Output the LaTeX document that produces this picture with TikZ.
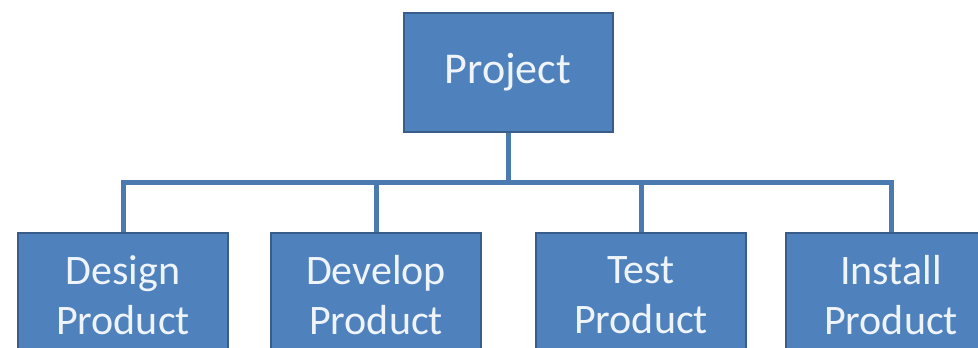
\documentclass[tikz,border=0pt]{standalone}
\usepackage{fontspec}
\setmainfont{Carlito}
\definecolor{boxfill}{HTML}{4F81BD}
\definecolor{boxline}{HTML}{385D8A}
\definecolor{connc}{HTML}{4A7AB0}
\definecolor{txt}{HTML}{EEF4FA}
\tikzset{
  box/.style={draw=boxline, line width=2pt, fill=boxfill, text=txt, align=center,
    font=\fontsize{42}{50}\selectfont, inner sep=0pt},
  childbox/.style={box, minimum width=210, minimum height=124},
  conn/.style={draw=connc, line width=5pt, line join=miter}
}
\begin{document}
\begin{tikzpicture}[x=1pt,y=-1pt]
\useasboundingbox (0,0) rectangle (978,348);
\fill[white] (0,0) rectangle (978,348);
\clip (0,0) rectangle (978,348);
\coordinate (bus) at (0,182);
\node[box, minimum width=209, minimum height=119, font=\fontsize{44}{52}\selectfont] (proj) at (508,72.5) {Project};
\node[childbox] (design) at (123,295) {Design\\Product};
\node[childbox] (develop) at (376,295) {Develop\\Product};
\node[childbox] (test) at (641,295) {Test\\Product};
\node[childbox] (install) at (891,295) {Install\\Product};
\draw[conn] (proj.south) -- (proj.south |- bus);
\draw[conn] (design.north) -- (design.north |- bus) -- (install.north |- bus) -- (install.north);
\draw[conn] (develop.north) -- (develop.north |- bus);
\draw[conn] (test.north) -- (test.north |- bus);
\end{tikzpicture}
\end{document}
